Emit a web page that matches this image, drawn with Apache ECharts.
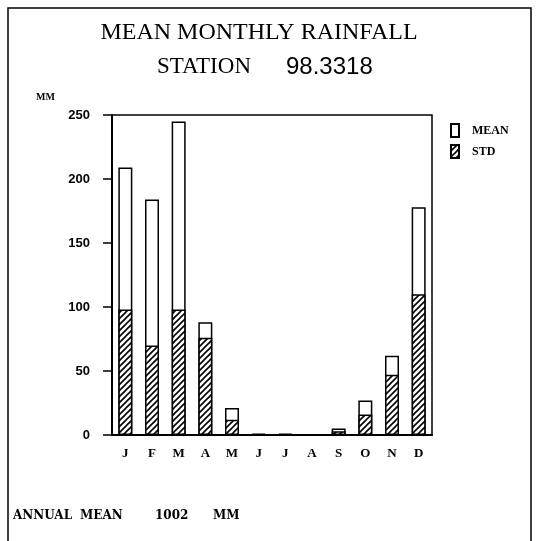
<!DOCTYPE html>
<html>
<head>
<meta charset="utf-8">
<script src="https://cdn.jsdelivr.net/npm/echarts@6/dist/echarts.min.js"></script>
<style>html,body{margin:0;padding:0;background:#fff;}#c{width:537px;height:541px;}</style>
</head>
<body>
<div id="c"></div>
<script>
var months = ['J','F','M','A','M','J','J','A','S','O','N','D'];
var meanValues = [209, 184, 245, 88, 21, 1, 1, 0.5, 5, 27, 62, 178];
var stdValues = [98, 70, 98, 76, 12, 0.5, 0.5, 0.3, 3, 16, 47, 110];
var yTicks = [0, 50, 100, 150, 200, 250];

function hatch() {
  var c = document.createElement('canvas');
  c.width = 6; c.height = 6;
  var g = c.getContext('2d');
  g.fillStyle = '#fff'; g.fillRect(0, 0, 6, 6);
  g.strokeStyle = '#000'; g.lineWidth = 1.6;
  g.beginPath();
  g.moveTo(-1, 7); g.lineTo(7, -1);
  g.moveTo(-4, 4); g.lineTo(4, -4);
  g.moveTo(2, 10); g.lineTo(10, 2);
  g.stroke();
  return c;
}

var chart = echarts.init(document.getElementById('c'), null, {renderer: 'canvas'});
var serif = '"Liberation Serif", "DejaVu Serif", serif';
var sans = '"Liberation Sans", "DejaVu Sans", sans-serif';
var wide = '"DejaVu Serif", serif';
chart.setOption({
  animation: false,
  backgroundColor: '#fff',
  graphic: [
    {type: 'rect', shape: {x: 8, y: 8, width: 523, height: 560}, style: {fill: 'none', stroke: '#000', lineWidth: 1.5}, silent: true},
    {type: 'text', x: 259, y: 21, style: {text: 'MEAN MONTHLY RAINFALL', font: '24px ' + serif, fill: '#000', textAlign: 'center'}},
    {type: 'text', x: 157, y: 55, style: {text: 'STATION', font: '23px ' + serif, fill: '#000'}},
    {type: 'text', x: 286, y: 55, style: {text: '98.3318', font: '24px ' + sans, fill: '#000'}},
    {type: 'text', x: 36, y: 92, style: {text: 'MM', font: 'bold 10px ' + serif, fill: '#000'}},
    {type: 'text', x: 13, y: 510, style: {text: 'ANNUAL', font: 'bold 12px ' + wide, fill: '#000'}},
    {type: 'text', x: 80, y: 510, style: {text: 'MEAN', font: 'bold 12px ' + wide, fill: '#000'}},
    {type: 'text', x: 155, y: 510, style: {text: '1002', font: 'bold 12px ' + wide, fill: '#000'}},
    {type: 'text', x: 213, y: 510, style: {text: 'MM', font: 'bold 12px ' + wide, fill: '#000'}}
  ],
  legend: {
    orient: 'vertical', left: 445, top: 118, itemWidth: 8, itemHeight: 13, itemGap: 6, icon: 'rect',
    textStyle: {fontFamily: serif, fontWeight: 'bold', fontSize: 12, color: '#000', padding: [0, 0, 0, 8]},
    data: ['MEAN', 'STD']
  },
  grid: {left: 112, right: 105, top: 115, bottom: 106, show: true, borderColor: '#000', borderWidth: 1.5, backgroundColor: 'transparent'},
  xAxis: {
    type: 'category', data: months,
    axisLine: {lineStyle: {color: '#000', width: 2}},
    axisTick: {alignWithLabel: true, length: 9, lineStyle: {color: '#000', width: 1.5}},
    axisLabel: {color: '#000', fontFamily: serif, fontWeight: 'bold', fontSize: 13, margin: 12}
  },
  yAxis: {
    type: 'value', min: 0, max: 250, interval: 50,
    axisLine: {show: true, lineStyle: {color: '#000', width: 2}},
    axisTick: {show: true, length: 9, lineStyle: {color: '#000', width: 1.5}},
    splitLine: {show: false},
    axisLabel: {color: '#000', fontFamily: sans, fontWeight: 'bold', fontSize: 13, margin: 22,
      formatter: function (v) { return yTicks.indexOf(v) >= 0 ? String(v) : ''; }}
  },
  series: [
    {name: 'MEAN', type: 'bar', data: meanValues, barWidth: 14, barGap: '-100%',
      itemStyle: {color: '#fff', borderColor: '#000', borderWidth: 1.5}},
    {name: 'STD', type: 'bar', data: stdValues, barWidth: 14,
      itemStyle: {color: {image: hatch(), repeat: 'repeat'}, borderColor: '#000', borderWidth: 1.5}}
  ]
});
</script>
</body>
</html>
